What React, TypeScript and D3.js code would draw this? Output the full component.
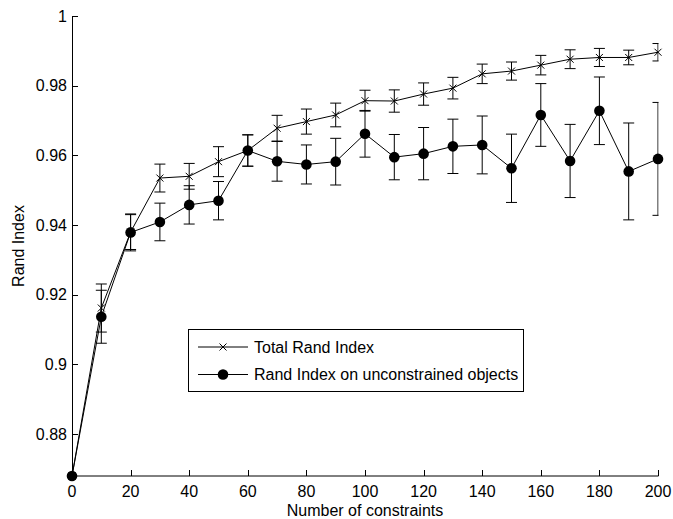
import React from "react";
import * as d3 from "d3";

const constraints = [0, 10, 20, 30, 40, 50, 60, 70, 80, 90, 100, 110, 120, 130, 140, 150, 160, 170, 180, 190, 200];
const totalRand = [0.868, 0.9162, 0.938, 0.9535, 0.954, 0.9582, 0.9614, 0.9678, 0.9697, 0.9716, 0.9757, 0.9756, 0.9776, 0.9793, 0.9834, 0.9842, 0.9859, 0.9876, 0.9881, 0.9881, 0.9896];
const totalErr = [0, 0.0069, 0.005, 0.004, 0.0037, 0.0043, 0.0045, 0.0037, 0.0036, 0.0034, 0.003, 0.0032, 0.0032, 0.0031, 0.0028, 0.0026, 0.0028, 0.0027, 0.0026, 0.0021, 0.0025];
const unconRand = [0.868, 0.9137, 0.9379, 0.9409, 0.9458, 0.947, 0.9614, 0.9583, 0.9574, 0.9582, 0.9662, 0.9595, 0.9605, 0.9626, 0.963, 0.9563, 0.9716, 0.9584, 0.9728, 0.9554, 0.959];
const unconErr = [0, 0.0076, 0.0053, 0.0054, 0.0055, 0.0055, 0.0045, 0.0057, 0.0056, 0.0067, 0.0067, 0.0065, 0.0075, 0.0078, 0.0083, 0.0098, 0.009, 0.0105, 0.0097, 0.0139, 0.0162];
const xTicks = [0, 20, 40, 60, 80, 100, 120, 140, 160, 180, 200];
const yTicks = [0.88, 0.9, 0.92, 0.94, 0.96, 0.98, 1];
const seriesNames = ["Total Rand Index", "Rand Index on unconstrained objects"];

const W = 673, H = 519;
const L = 72, R = 658, T = 16, B = 476;
const FONT = "'Liberation Sans', Arial, Helvetica, sans-serif";

export default function App() {
  const x = d3.scaleLinear().domain([0, 200]).range([L, R]);
  const y = d3.scaleLinear().domain([0.868, 1]).range([B, T]);
  const line = d3.line<[number, number]>().x(d => x(d[0])).y(d => y(d[1]));
  const totalPts: [number, number][] = constraints.map((c, i) => [c, totalRand[i]]);
  const unconPts: [number, number][] = constraints.map((c, i) => [c, unconRand[i]]);
  const cap = 5.5;

  const errBars = (vals: number[], errs: number[], key: string) =>
    constraints.map((c, i) => {
      if (errs[i] === 0) return null;
      const cx = x(c), y1 = y(vals[i] + errs[i]), y2 = y(vals[i] - errs[i]);
      return (
        <g key={key + i} stroke="#000" strokeWidth={1} fill="none">
          <line x1={cx} x2={cx} y1={y1} y2={y2} />
          <line x1={cx - cap} x2={cx + cap} y1={y1} y2={y1} />
          <line x1={cx - cap} x2={cx + cap} y1={y2} y2={y2} />
        </g>
      );
    });

  const cross = (cx: number, cy: number, k: string) => (
    <path key={k} d={`M${cx - 3.5},${cy - 3.5}L${cx + 3.5},${cy + 3.5}M${cx - 3.5},${cy + 3.5}L${cx + 3.5},${cy - 3.5}`} stroke="#000" strokeWidth={1} />
  );

  const lgX = 188, lgY = 329, lgW = 335, lgH = 62;

  return (
    <svg width={W} height={H} style={{ position: "absolute", left: 0, top: 0, background: "#fff" }} fontFamily={FONT}>
      <rect x={0} y={0} width={W} height={H} fill="#fff" />
      <defs>
        <clipPath id="plotclip">
          <rect x={L - 6} y={T - 10} width={R - L + 6.5} height={B - T + 20} />
        </clipPath>
      </defs>
      {/* axes */}
      <line x1={L + 0.5} x2={L + 0.5} y1={T} y2={B} stroke="#000" strokeWidth={1} />
      <line x1={L} x2={R + 0.5} y1={B} y2={B} stroke="#000" strokeWidth={1} />
      {yTicks.map(t => (
        <g key={"yt" + t}>
          <line x1={L} x2={L + 6} y1={Math.round(y(t)) + 0.5} y2={Math.round(y(t)) + 0.5} stroke="#000" />
          <text x={L - 5} y={y(t)} dy="0.35em" textAnchor="end" fontSize={16}>{String(t)}</text>
        </g>
      ))}
      {xTicks.map(t => (
        <g key={"xt" + t}>
          <line x1={Math.round(x(t)) + 0.5} x2={Math.round(x(t)) + 0.5} y1={B} y2={B - 6} stroke="#000" />
          <text x={x(t)} y={497} textAnchor="middle" fontSize={16}>{String(t)}</text>
        </g>
      ))}
      <text x={365} y={516} textAnchor="middle" fontSize={16}>Number of constraints</text>
      <text transform={`translate(24,${(T + B) / 2}) rotate(-90)`} textAnchor="middle" fontSize={16}>Rand Index</text>

      {/* data */}
      <g clipPath="url(#plotclip)">
        {errBars(totalRand, totalErr, "te")}
        {errBars(unconRand, unconErr, "ue")}
      </g>
      <path d={line(totalPts) || ""} fill="none" stroke="#000" strokeWidth={1} />
      <path d={line(unconPts) || ""} fill="none" stroke="#000" strokeWidth={1} />
      {totalPts.map((p, i) => cross(x(p[0]), y(p[1]), "c" + i))}
      {unconPts.map((p, i) => (
        <circle key={"d" + i} cx={x(p[0])} cy={y(p[1])} r={5.3} fill="#000" />
      ))}

      {/* legend */}
      <rect x={lgX + 0.5} y={lgY + 0.5} width={lgW} height={lgH} fill="#fff" stroke="#000" strokeWidth={1} />
      <line x1={198} x2={248} y1={347} y2={347} stroke="#000" />
      {cross(223, 347, "lc")}
      <text x={254} y={347} dy="0.35em" fontSize={16}>{seriesNames[0]}</text>
      <line x1={198} x2={248} y1={374.5} y2={374.5} stroke="#000" />
      <circle cx={223} cy={374.5} r={5.3} fill="#000" />
      <text x={254} y={374.5} dy="0.35em" fontSize={16}>{seriesNames[1]}</text>
    </svg>
  );
}
